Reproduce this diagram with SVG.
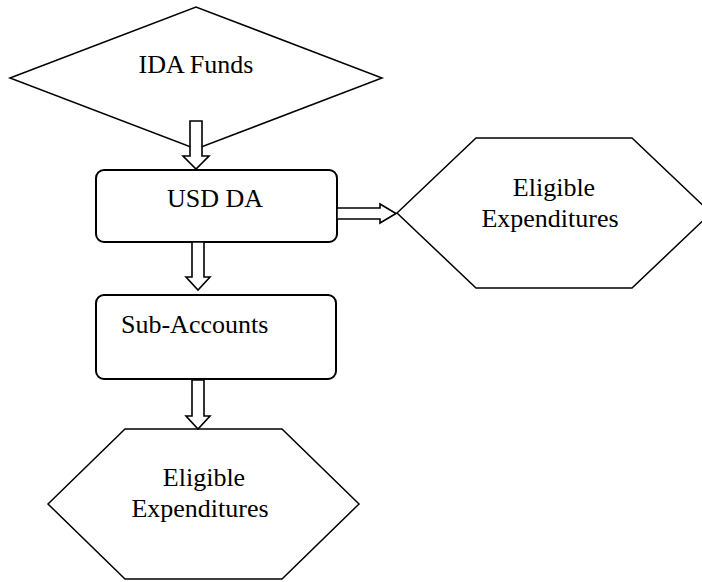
<svg xmlns="http://www.w3.org/2000/svg" width="702" height="582" viewBox="0 0 702 582">
<style>
.shape{fill:#fff;stroke:#000;stroke-width:1.5;stroke-linejoin:miter}
.box{fill:#fff;stroke:#000;stroke-width:2}
.arrow{fill:#fff;stroke:#000;stroke-width:1.6;stroke-linejoin:miter}
text{font-family:'Liberation Serif', 'Times New Roman', Times, serif;font-size:26px;fill:#000}
</style>
<rect width="702" height="582" fill="#fff"/>
<g id="ida-funds">
<polygon class="shape" points="10,78 196,7 382,78 196,149"/>
<text font-family="Liberation Serif, serif" x="196" y="73" text-anchor="middle">IDA Funds</text>
</g>
<g id="usd-da">
<rect class="box" x="96" y="170" width="241" height="72" rx="8"/>
<text font-family="Liberation Serif, serif" x="215" y="207" text-anchor="middle">USD DA</text>
</g>
<g id="eligible-right">
<polygon class="shape" points="397,213 476,138 632,138 711,213 632,288 476,288"/>
<text font-family="Liberation Serif, serif" x="554" y="196" text-anchor="middle">Eligible</text>
<text font-family="Liberation Serif, serif" x="550" y="227" text-anchor="middle">Expenditures</text>
</g>
<g id="sub-accounts">
<rect class="box" x="96" y="295" width="240" height="84" rx="8"/>
<text font-family="Liberation Serif, serif" x="121" y="333">Sub-Accounts</text>
</g>
<g id="eligible-bottom">
<polygon class="shape" points="48,504 125,429 282,429 359,504 282,579 125,579"/>
<text font-family="Liberation Serif, serif" x="204" y="486" text-anchor="middle">Eligible</text>
<text font-family="Liberation Serif, serif" x="200" y="517" text-anchor="middle">Expenditures</text>
</g>
<g id="connectors">
<polygon class="arrow" points="190,121 202,121 202,156 209,156 196,169 183,156 190,156"/>
<polygon class="arrow" points="192,242 204,242 204,277 210,277 198,290 186,277 192,277"/>
<polygon class="arrow" points="337,208 380,208 380,204 396,213.5 380,223 380,219 337,219"/>
<polygon class="arrow" points="192,380 204,380 204,416 210,416 198,429 186,416 192,416"/>
</g>
</svg>
